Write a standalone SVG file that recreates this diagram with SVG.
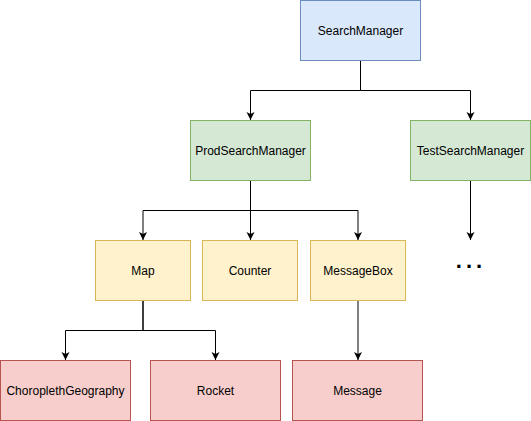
<svg xmlns="http://www.w3.org/2000/svg" width="531" height="421" viewBox="0 0 531 421">
<style>
text{font-family:"Liberation Sans",Arial,sans-serif;font-size:12px;fill:#000;text-anchor:middle;dominant-baseline:central}
.blue{fill:#dae8fc;stroke:#6c8ebf}
.green{fill:#d5e8d4;stroke:#82b366}
.yellow{fill:#fff2cc;stroke:#d6b656}
.red{fill:#f8cecc;stroke:#b85450}
.edge{fill:none;stroke:#000;stroke-width:1;marker-end:url(#arr)}
</style>
<defs>
<marker id="arr" markerUnits="userSpaceOnUse" markerWidth="10" markerHeight="10" refX="8" refY="4" orient="auto" viewBox="0 0 10 8">
<path d="M0,0 L8,4 L0,8 L2,4 Z" fill="#000"/>
</marker>
</defs>
<rect width="531" height="421" fill="#fff"/>
<g id="connectors">
<path class="edge" d="M360.5,60.5 V90.5 H250.5 V120"/>
<path class="edge" d="M360.5,60.5 V90.5 H470.5 V120"/>
<path class="edge" d="M250.5,180.5 V210.5 H143 V240"/>
<path class="edge" d="M250.5,180.5 V240"/>
<path class="edge" d="M250.5,180.5 V210.5 H358 V240"/>
<path class="edge" d="M470.5,180.5 V240"/>
<path class="edge" d="M143,300.5 V330.5 H65.5 V360"/>
<path class="edge" d="M143,300.5 V330.5 H215.5 V360"/>
<path class="edge" d="M358,300.5 V360"/>
</g>
<g id="SearchManager"><rect class="blue" x="300.5" y="0.5" width="120" height="60"/><text x="360.5" y="30.5">SearchManager</text></g>
<g id="ProdSearchManager"><rect class="green" x="190.5" y="120.5" width="120" height="60"/><text x="250.5" y="150.5">ProdSearchManager</text></g>
<g id="TestSearchManager"><rect class="green" x="410.5" y="120.5" width="120" height="60"/><text x="470.5" y="150.5">TestSearchManager</text></g>
<g id="Map"><rect class="yellow" x="95.5" y="240.5" width="95" height="60"/><text x="143" y="270.5">Map</text></g>
<g id="Counter"><rect class="yellow" x="202.5" y="240.5" width="95" height="60"/><text x="250" y="270.5">Counter</text></g>
<g id="MessageBox"><rect class="yellow" x="310.5" y="240.5" width="95" height="60"/><text x="358" y="270.5">MessageBox</text></g>
<g id="Ellipsis"><text x="471" y="268" style="font-size:22px;font-weight:bold;letter-spacing:4px;dominant-baseline:auto">...</text></g>
<g id="ChoroplethGeography"><rect class="red" x="0.5" y="360.5" width="130" height="60"/><text x="65.5" y="390.5">ChoroplethGeography</text></g>
<g id="Rocket"><rect class="red" x="150.5" y="360.5" width="130" height="60"/><text x="215.5" y="390.5">Rocket</text></g>
<g id="Message"><rect class="red" x="292.5" y="360.5" width="130" height="60"/><text x="357.5" y="390.5">Message</text></g>
</svg>
